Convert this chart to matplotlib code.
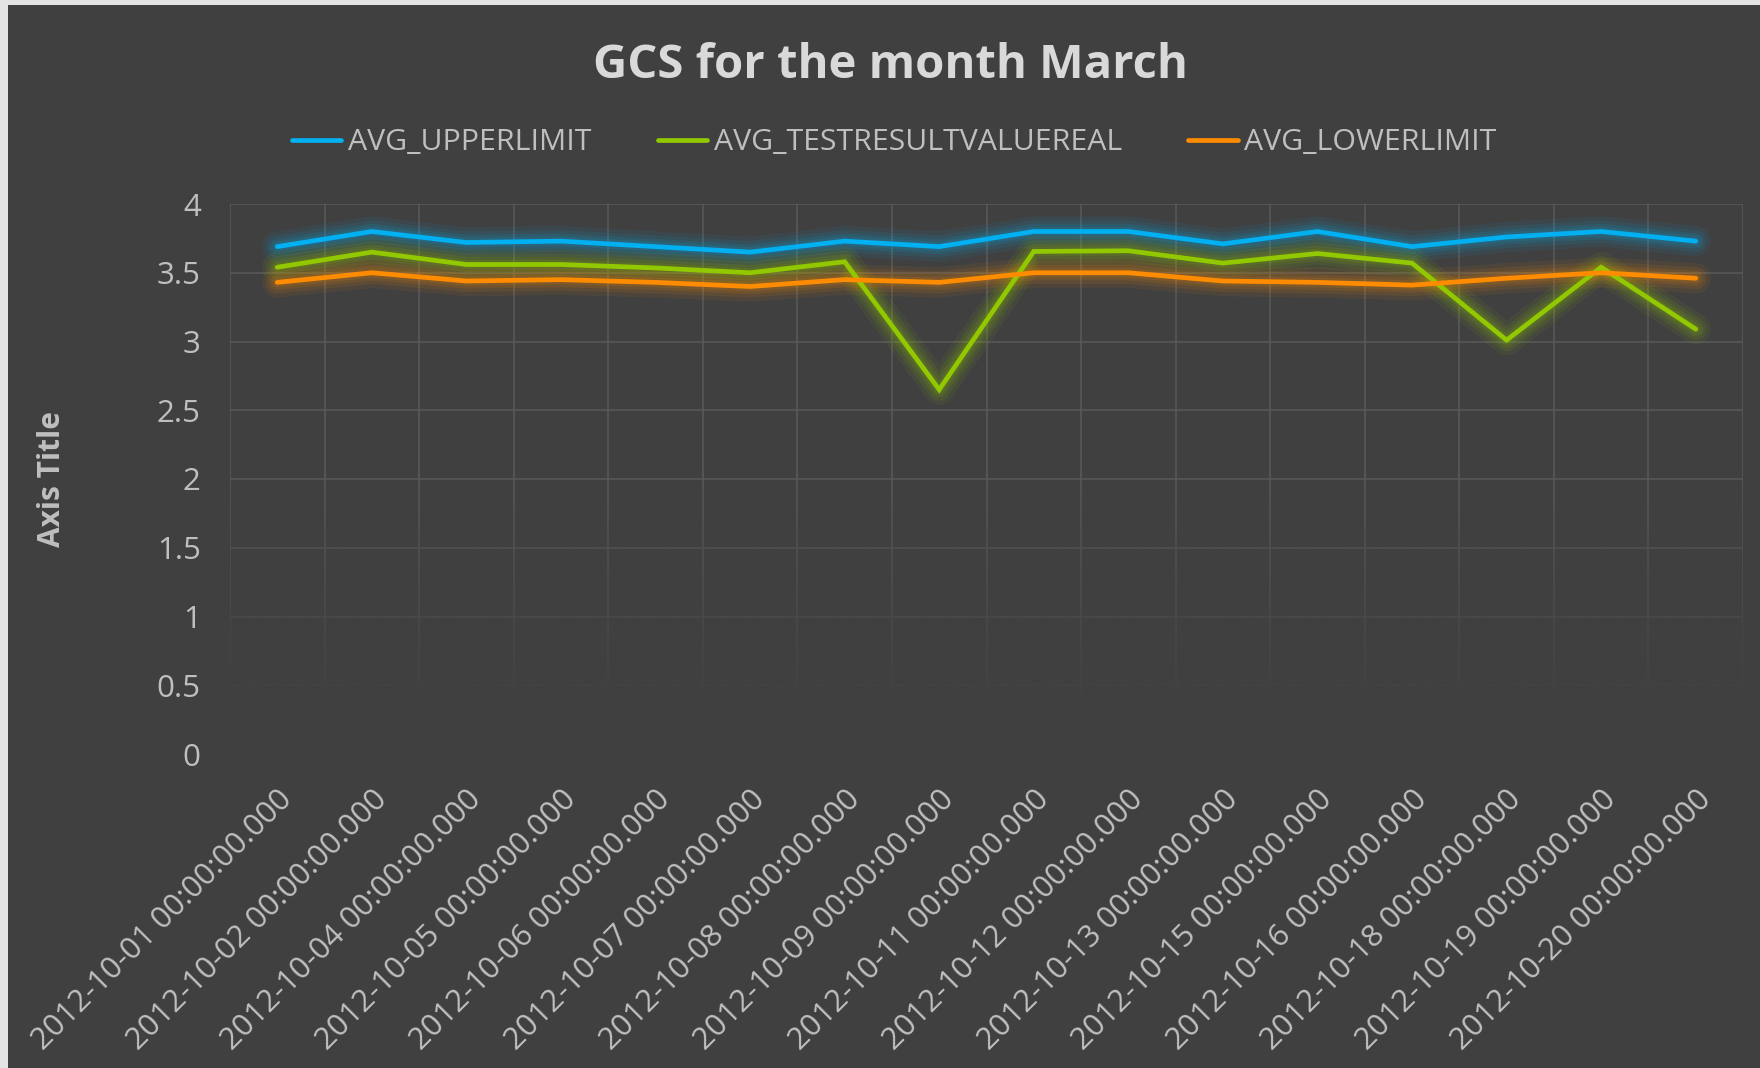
import numpy as np
import matplotlib
matplotlib.use("Agg")
from matplotlib import pyplot as plt
from matplotlib.patches import Rectangle

dates = ["2012-10-01", "2012-10-02", "2012-10-04", "2012-10-05", "2012-10-06",
         "2012-10-07", "2012-10-08", "2012-10-09", "2012-10-11", "2012-10-12",
         "2012-10-13", "2012-10-15", "2012-10-16", "2012-10-18", "2012-10-19",
         "2012-10-20"]
labels = [d + " 00:00:00.000" for d in dates]

upper = [3.69, 3.80, 3.72, 3.73, 3.69, 3.65, 3.73, 3.69,
         3.80, 3.80, 3.71, 3.80, 3.69, 3.76, 3.80, 3.73]
result = [3.54, 3.65, 3.56, 3.56, 3.535, 3.50, 3.58, 2.65,
          3.655, 3.66, 3.57, 3.64, 3.57, 3.01, 3.54, 3.09]
lower = [3.43, 3.50, 3.44, 3.45, 3.43, 3.40, 3.45, 3.43,
         3.50, 3.50, 3.44, 3.43, 3.41, 3.46, 3.50, 3.46]

series = [("AVG_UPPERLIMIT", upper, "#00B0F0"),
          ("AVG_TESTRESULTVALUEREAL", result, "#92C800"),
          ("AVG_LOWERLIMIT", lower, "#FF8C00")]

bg = "#404040"
txt = "#BFBFBF"
grid_c = "#5A5A5A"
plt.rcParams["font.family"] = ["Open Sans", "DejaVu Sans"]

fig = plt.figure(figsize=(17.6, 10.68), dpi=100)
fig.patch.set_facecolor("#E4E4E4")
fig.patches.append(Rectangle((8 / 1760, 0), 1, 1 - 5 / 1068, transform=fig.transFigure,
                             facecolor=bg, edgecolor="none", zorder=-5))

ax = fig.add_axes([230 / 1760, 1 - 754 / 1068, (1743 - 230) / 1760, 550 / 1068])
ax.set_facecolor(bg)
ax.set_axisbelow(True)
for s in ax.spines.values():
    s.set_visible(False)

x = np.arange(len(labels))
ax.set_xlim(-0.5, len(labels) - 0.5)
ax.set_ylim(0, 4)

# grid: horizontal at major y ticks, vertical between categories
ax.set_yticks(np.arange(0, 4.01, 0.5))
ax.set_yticklabels(["0", "0.5", "1", "1.5", "2", "2.5", "3", "3.5", "4"])
ax.set_xticks(x)
ax.set_xticks(np.arange(-0.5, len(labels)), minor=True)
ax.grid(axis="y", which="major", color=grid_c, lw=1.1)
ax.grid(axis="x", which="minor", color=grid_c, lw=1.1)
ax.tick_params(which="both", length=0)
ax.tick_params(axis="y", pad=21, labelsize=22.5, labelcolor=txt)

ax.set_xticklabels(labels, rotation=45, ha="right", va="top",
                   rotation_mode="anchor", fontsize=22.3, color=txt)
ax.tick_params(axis="x", pad=22)

# fade the grid towards the bottom (reflection look)
grad = np.ones((200, 1, 4))
grad[..., :3] = matplotlib.colors.to_rgb(bg)
yy = np.linspace(0, 4, 200)
grad[:, 0, 3] = np.clip((2.0 - yy) / 1.7, 0, 1)
ax.imshow(grad, extent=(-0.5, len(labels) - 0.5, 0, 4), origin="lower",
          aspect="auto", zorder=1, interpolation="bilinear")

# glow then line
for name, vals, col in series:
    for w, a in [(22, 0.07), (16, 0.09), (11, 0.11), (7, 0.12)]:
        ax.plot(x, vals, color=col, lw=w, alpha=a, solid_capstyle="round",
                solid_joinstyle="round", zorder=2)
for name, vals, col in series:
    ax.plot(x, vals, color=col, lw=3.4, solid_capstyle="round",
            solid_joinstyle="miter", zorder=3, label=name)

ax.set_ylabel("Axis Title", fontsize=21.5, fontweight="bold", color=txt)
ax.yaxis.set_label_coords((67 - 230) / 1513, 0.5)

fig.text(0.506, 1 - 66 / 1068, "GCS for the month March", ha="center", va="center",
         fontsize=34, fontweight="bold", color="#D9D9D9")

leg = fig.legend(*ax.get_legend_handles_labels(), loc="center", ncol=3,
                 bbox_to_anchor=(0.508, 1 - 143 / 1068), frameon=False,
                 fontsize=21.8, handlelength=1.65, handletextpad=0.2,
                 columnspacing=2.2)
for t in leg.get_texts():
    t.set_color(txt)
for h in leg.get_lines():
    h.set_linewidth(3.4)

fig.savefig("out.png", dpi=100, facecolor=fig.get_facecolor())
